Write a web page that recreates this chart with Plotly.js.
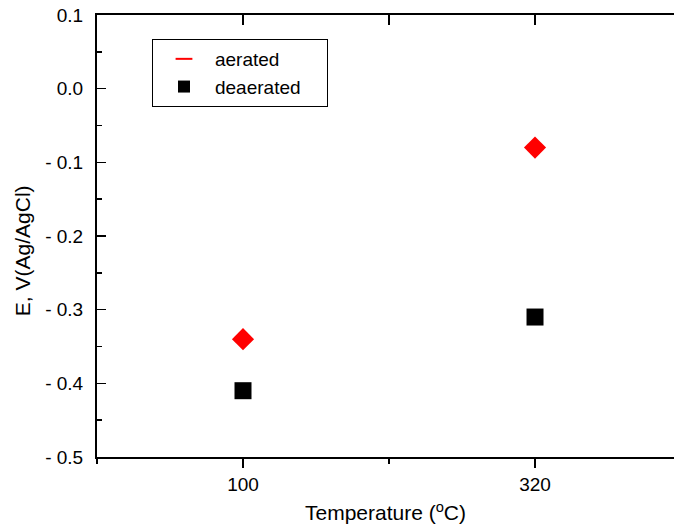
<!DOCTYPE html>
<html><head><meta charset="utf-8">
<script src="https://cdn.plot.ly/plotly-3.0.1.min.js"></script>
<style>html,body{margin:0;padding:0;overflow:hidden;background:#fff}</style>
</head><body><div id="c"></div>
<script>
const temperatures = ['100', '320'];
const aerated = [-0.34, -0.08];
const deaerated = [-0.41, -0.31];
const seriesNames = ['aerated', 'deaerated'];
const yTickVals = [0.1, 0.0, -0.1, -0.2, -0.3, -0.4, -0.5];
const yTickText = ['0.1', '0.0', '- 0.1', '- 0.2', '- 0.3', '- 0.4', '- 0.5'];

const xIdx = temperatures.map((t, i) => i);
const font = {family: 'Liberation Sans, Arial, sans-serif', color: '#000'};
const pad = '\u00a0\u00a0\u00a0\u00a0';

const traces = [
  {x: xIdx, y: aerated, type: 'scatter', mode: 'markers', name: seriesNames[0], showlegend: false,
   marker: {symbol: 'diamond', size: 17, color: '#ff0000'}},
  {x: [null], y: [null], type: 'scatter', mode: 'markers', name: seriesNames[0],
   marker: {symbol: 'line-ew', size: 16, color: '#ff0000', line: {color: '#ff0000', width: 2}}},
  {x: xIdx, y: deaerated, type: 'scatter', mode: 'markers', name: seriesNames[1] + pad,
   marker: {symbol: 'square', size: 17, color: '#000000'}},
  {x: xIdx, y: deaerated, xaxis: 'x2', type: 'scatter', mode: 'none', showlegend: false, hoverinfo: 'skip'}
];

const layout = {
  width: 674, height: 531,
  margin: {l: 97, r: 0, t: 15, b: 74},
  paper_bgcolor: '#fff', plot_bgcolor: '#fff',
  font: Object.assign({size: 19}, font),
  showlegend: true,
  legend: {x: 0.0953, y: 0.9457, xanchor: 'left', yanchor: 'top',
    bordercolor: '#000', borderwidth: 1, bgcolor: '#fff',
    font: Object.assign({size: 19}, font), itemsizing: 'constant', itemwidth: 52},
  xaxis: {
    range: [-0.5, 1.476], tickvals: xIdx, ticktext: temperatures,
    showgrid: false, zeroline: false, showline: true, linecolor: '#000', linewidth: 2,
    ticks: 'outside', ticklen: 9, tickwidth: 1.5, tickcolor: '#000',
    minor: {dtick: 0.5, tick0: 0, ticks: 'outside', ticklen: 5, tickwidth: 1.5, tickcolor: '#000', showgrid: false},
    tickfont: Object.assign({size: 19}, font),
    title: {text: 'Temperature (<sup>o</sup>C)', font: Object.assign({size: 21}, font), standoff: 12}
  },
  xaxis2: {
    overlaying: 'x', side: 'top', range: [-0.5, 1.476], tickvals: [0, 0.5, 1], showticklabels: false,
    showgrid: false, zeroline: false, showline: true, linecolor: '#000', linewidth: 2,
    ticks: 'inside', ticklen: 10, tickwidth: 1.5, tickcolor: '#000'
  },
  yaxis: {
    range: [-0.5, 0.1], tickvals: yTickVals, ticktext: yTickText,
    showgrid: false, zeroline: false, showline: true, linecolor: '#000', linewidth: 2,
    ticks: 'inside', ticklen: 9, tickwidth: 1.5, tickcolor: '#000',
    minor: {dtick: 0.05, tick0: 0, ticks: 'inside', ticklen: 5, tickwidth: 1.5, tickcolor: '#000', showgrid: false},
    tickfont: Object.assign({size: 19}, font), ticklabelstandoff: 8
  },
  annotations: [{
    text: 'E, V(Ag/AgCl)', textangle: -90, showarrow: false,
    xref: 'paper', yref: 'paper', x: -0.13, y: 0.468, xanchor: 'center', yanchor: 'middle',
    font: Object.assign({size: 21}, font)
  }]
};

Plotly.newPlot('c', traces, layout, {displayModeBar: false, staticPlot: true});
</script></body></html>
